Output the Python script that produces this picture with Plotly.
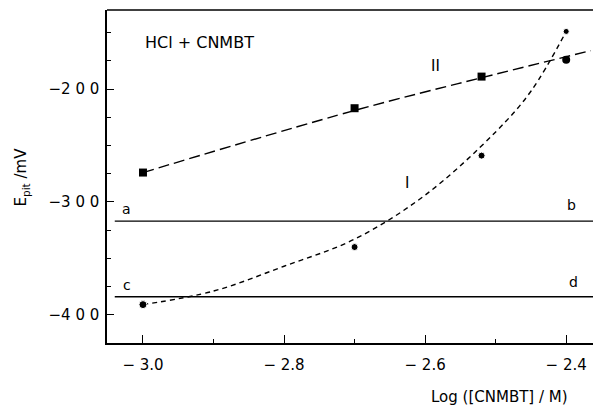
import plotly.graph_objects as go

# Measured pitting potentials
log_conc = [-3.0, -2.7, -2.52, -2.4]
epit_I = [-391, -340, -259, -149]
epit_II = [-274, -217, -189, -174]

# Smoothed trend curves drawn through the measurements
curve_I_x = [-3.0, -2.9, -2.8, -2.7, -2.6, -2.5, -2.45, -2.4]
curve_I_y = [-391, -379, -357, -333, -294, -238, -202, -149]
curve_II_x = [-3.0, -2.7, -2.52, -2.365]
curve_II_y = [-274, -219, -190, -166]

# Reference potential levels (a-b and c-d)
level_ab = -317
level_cd = -384
level_x = [-3.04, -2.362]

x_ticks = [-3.0, -2.8, -2.6, -2.4]
x_ticktext = ["\u2212 3.0", "\u2212 2.8", "\u2212 2.6", "\u2212 2.4"]
y_ticks = [-200, -300, -400]
y_ticktext = ["\u22122 0 0", "\u22123 0 0", "\u22124 0 0"]

FONT = "DejaVu Sans"
ink = "black"

fig = go.Figure()

fig.add_trace(go.Scatter(x=level_x, y=[level_ab, level_ab], mode="lines",
                         line=dict(color=ink, width=1.4), hoverinfo="skip"))
fig.add_trace(go.Scatter(x=level_x, y=[level_cd, level_cd], mode="lines",
                         line=dict(color=ink, width=1.4), hoverinfo="skip"))

fig.add_trace(go.Scatter(x=curve_I_x, y=curve_I_y, mode="lines",
                         line=dict(color=ink, width=1.4, dash="5px,4px", shape="spline"),
                         hoverinfo="skip"))
fig.add_trace(go.Scatter(x=curve_II_x, y=curve_II_y, mode="lines",
                         line=dict(color=ink, width=1.4, dash="11px,5px", shape="spline"),
                         hoverinfo="skip"))

fig.add_trace(go.Scatter(x=log_conc, y=epit_I, mode="markers",
                         marker=dict(color=ink, size=[8, 7, 7, 6], opacity=1,
                                     symbol="circle")))
fig.add_trace(go.Scatter(x=log_conc, y=epit_II, mode="markers",
                         marker=dict(color=ink, size=8, opacity=1,
                                     symbol=["square", "square", "square", "circle"])))

tick_font = dict(family=FONT, size=15, color=ink)

fig.update_xaxes(range=[-3.051, -2.362], tickvals=x_ticks, ticktext=x_ticktext,
                 ticks="inside", ticklen=8, tickwidth=1.2, tickcolor=ink,
                 ticklabelstandoff=7,
                 minor=dict(tickvals=[-2.9, -2.7, -2.5], ticks="inside", ticklen=4,
                            tickwidth=1.2, tickcolor=ink),
                 showline=True, linecolor=ink, linewidth=1.5, mirror=False,
                 showgrid=False, zeroline=False, tickfont=tick_font)
fig.update_yaxes(range=[-425, -130], tickvals=y_ticks, ticktext=y_ticktext,
                 ticks="inside", ticklen=7, tickwidth=1.2, tickcolor=ink,
                 ticklabelstandoff=3,
                 minor=dict(tickvals=[-400 + 25 * k for k in range(-1, 12)], ticks="inside",
                            ticklen=4, tickwidth=1.2, tickcolor=ink),
                 showline=True, linecolor=ink, linewidth=1.5,
                 showgrid=False, zeroline=False, tickfont=tick_font)

# Top frame line
fig.add_shape(type="line", xref="paper", yref="paper", x0=0, x1=1, y0=1, y1=1,
              line=dict(color=ink, width=1.5))

text_font = dict(family=FONT, size=15, color=ink)
small_font = dict(family=FONT, size=14, color=ink)
annotations = [
    dict(x=-3.0, y=-159, text="HCl + CNMBT", xanchor="left",
         font=dict(family=FONT, size=16, color=ink)),
    dict(x=-2.586, y=-180, text="II", font=text_font),
    dict(x=-2.626, y=-283, text="I", font=text_font),
    dict(x=-3.024, y=-306, text="a", font=small_font),
    dict(x=-2.393, y=-303, text="b", font=small_font),
    dict(x=-3.022, y=-374, text="c", font=small_font),
    dict(x=-2.39, y=-371, text="d", font=small_font),
]
for a in annotations:
    a.update(xref="x", yref="y", showarrow=False)

annotations.append(dict(xref="paper", yref="paper", x=-0.175, y=0.5,
                        text="E<sub>pit</sub> /mV", textangle=-90, showarrow=False,
                        font=text_font, xanchor="center", yanchor="middle"))
annotations.append(dict(xref="paper", yref="paper", x=0.807, y=-0.162,
                        text="Log ([CNMBT] / M)", showarrow=False,
                        font=text_font, xanchor="center", yanchor="middle"))

fig.update_layout(width=593, height=409, margin=dict(l=107, r=0, t=10, b=66),
                  plot_bgcolor="white", paper_bgcolor="white", showlegend=False,
                  annotations=annotations)

fig.write_html("out.html")
